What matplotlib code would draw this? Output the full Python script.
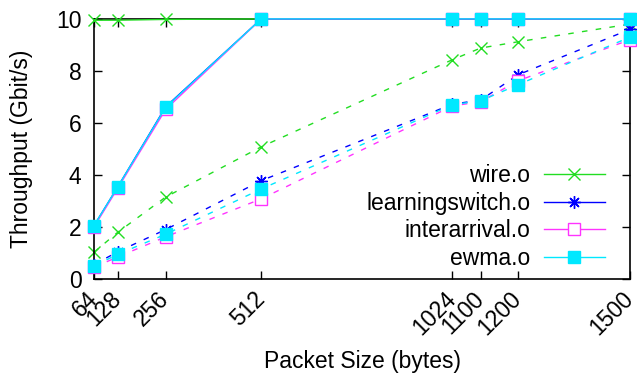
import matplotlib
matplotlib.use('Agg')
import matplotlib.pyplot as plt

plt.rcParams['font.family'] = ['Liberation Sans', 'DejaVu Sans']

# packet sizes (bytes)
sizes = [64, 128, 256, 512, 1024, 1100, 1200, 1500]

# solid lines (upper runs)
wire_hi = [9.95, 9.95, 9.98, 10.0, 10.0, 10.0, 10.0, 10.0]
learn_hi = [2.05, 3.55, 6.62, 10.0, 10.0, 10.0, 10.0, 10.0]
inter_hi = [2.0, 3.5, 6.52, 10.0, 10.0, 10.0, 10.0, 10.0]
ewma_hi = [2.05, 3.55, 6.6, 10.0, 10.0, 10.0, 10.0, 10.0]

# dashed lines (lower runs)
wire_lo = [1.03, 1.8, 3.15, 5.08, 8.43, 8.88, 9.12, 9.8]
learn_lo = [0.55, 1.05, 1.9, 3.78, 6.72, 6.88, 7.85, 9.6]
inter_lo = [0.45, 0.85, 1.62, 3.08, 6.65, 6.82, 7.62, 9.2]
ewma_lo = [0.5, 0.95, 1.72, 3.46, 6.7, 6.85, 7.47, 9.3]

labels = ['wire.o', 'learningswitch.o', 'interarrival.o', 'ewma.o']
colors = ['#22dd22', '#0000ff', '#ff33ff', '#00e8ff']

fs = 16.5
fig = plt.figure(figsize=(6.37, 3.78), dpi=100)
ax = fig.add_axes([0.1476, 0.262, 0.8414, 0.688])

ms = 9
styles = [
    dict(marker='x', ms=ms, mew=1.0),
    dict(marker=(8, 2, 0), ms=ms, mew=1.0),
    dict(marker='s', ms=ms, mfc='white', mew=1.0),
    dict(marker='s', ms=ms, mew=1.0),
]
hi = [wire_hi, learn_hi, inter_hi, ewma_hi]
lo = [wire_lo, learn_lo, inter_lo, ewma_lo]

for i in range(4):
    ax.plot(sizes, lo[i], color=colors[i], lw=1.0, dashes=(4, 6),
            clip_on=False, zorder=2 + i, **styles[i])
for i in range(4):
    ax.plot(sizes, hi[i], color=colors[i], lw=1.0, label=labels[i],
            clip_on=False, zorder=6 + i, **styles[i])

ax.set_xlim(64, 1500)
ax.set_ylim(0, 10)
ax.set_xticks(sizes)
ax.set_xticklabels([str(s) for s in sizes], rotation=45, ha='right',
                   va='center', rotation_mode='anchor', fontsize=fs)
ax.set_yticks([0, 2, 4, 6, 8, 10])
ax.tick_params(axis='both', direction='in', length=6, top=True, right=True,
               labelsize=fs, width=1.0)
ax.tick_params(axis='x', pad=12)
ax.tick_params(axis='y', pad=9)
for s in ax.spines.values():
    s.set_linewidth(1.2)

ax.set_xlabel('Packet Size (bytes)', fontsize=fs)
ax.set_ylabel('Throughput (Gbit/s)', fontsize=fs)
ax.xaxis.set_label_coords(0.5, -0.275)
ax.yaxis.set_label_coords(-0.113, 0.5)

ax.legend(loc='lower right', bbox_to_anchor=(0.97, 0.0), frameon=False,
          markerfirst=False, fontsize=fs, handlelength=2.65,
          labelspacing=0.2, handletextpad=0.6, borderaxespad=0)

fig.savefig('out.png', dpi=100)
